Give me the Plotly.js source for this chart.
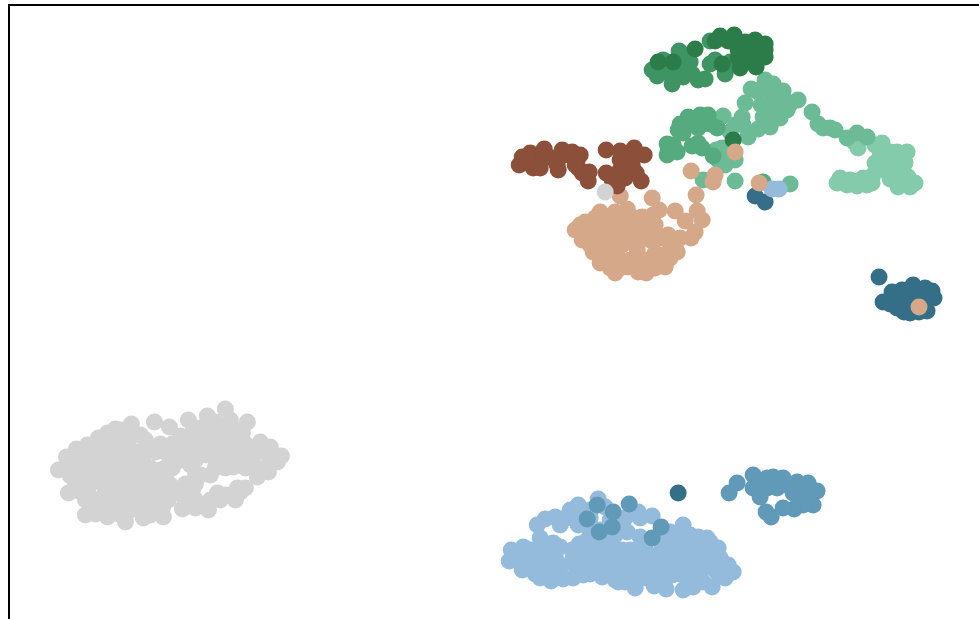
<!DOCTYPE html>
<html>
<head>
<meta charset="utf-8">
<script src="https://cdn.plot.ly/plotly-3.0.1.min.js"></script>
<style>html,body{margin:0;padding:0;background:#fff;overflow:hidden}</style>
</head>
<body>
<div id="chart" style="width:979px;height:619px"></div>
<script>
const green5 = [[837,183],[840,178],[847,185],[857,186],[863,178],[867,185],[872,183],[873,175],[858,148],[854,142],[875,145],[882,143],[897,152],[907,152],[905,163],[875,163],[883,157],[893,160],[890,170],[890,179],[898,187],[910,187],[915,183],[908,177],[900,175],[885,165],[898,165],[880,152],[890,152],[903,181],[850,180],[843,182],[878,170],[858,181]];
const green4 = [[765,80],[773,84],[751,89],[762,88],[783,91],[798,100],[790,104],[745,103],[761,105],[777,103],[787,110],[763,117],[780,118],[770,127],[758,129],[742,117],[743,125],[730,132],[748,137],[723,116],[722,148],[735,160],[725,165],[718,160],[703,180],[735,181],[790,184],[812,112],[818,124],[823,128],[830,128],[835,130],[847,138],[857,133],[867,137],[772,112],[765,110],[778,110],[768,118],[735,125],[773,98],[785,100],[758,92],[728,155],[716,150]];
const green3 = [[688,117],[680,124],[700,115],[708,115],[683,133],[717,128],[690,122],[703,124],[695,120],[667,144],[667,155],[677,152],[673,145],[692,146],[698,143],[702,148],[713,156],[763,182],[668,150],[674,150],[710,124],[685,126],[698,128],[678,130]];
const green2 = [[679,51],[652,70],[657,76],[672,84],[683,77],[698,80],[705,79],[690,62],[663,60],[710,64],[715,60],[725,74],[687,70],[673,72],[680,62],[710,41],[665,72],[680,72],[692,74],[730,62],[670,68],[685,55],[660,68]];
const green1 = [[715,41],[720,36],[734,35],[695,49],[755,40],[745,42],[765,44],[765,57],[756,67],[740,68],[722,64],[658,62],[673,62],[733,140],[738,50],[750,50],[760,52],[747,58],[755,58],[738,58],[728,41],[742,48],[745,62],[765,50]];
const teal = [[879,277],[678,493],[755,196],[765,202],[883,302],[892,292],[902,290],[913,285],[925,288],[932,291],[934,298],[927,311],[910,313],[904,312],[897,308],[890,304],[900,298],[910,295],[920,298],[915,305],[905,303],[925,300],[920,290],[895,298],[930,296],[919,312]];
const blue1 = [[598,499],[578,505],[570,510],[555,517],[545,519],[537,525],[560,525],[578,525],[540,538],[553,543],[560,547],[523,547],[511,550],[509,561],[522,570],[540,578],[551,581],[563,579],[573,578],[583,575],[602,577],[618,582],[635,588],[638,512],[652,516],[683,525],[627,532],[640,537],[670,532],[698,537],[707,538],[718,548],[728,565],[733,572],[725,578],[712,587],[693,587],[683,590],[666,589],[654,586],[579,544],[573,558],[590,550],[600,555],[610,548],[622,550],[635,552],[650,555],[662,548],[675,545],[690,548],[705,552],[700,565],[715,570],[688,570],[678,565],[625,565],[640,570],[655,572],[612,568],[595,565],[580,565],[560,565],[545,560],[530,558],[520,555],[535,550],[550,568],[530,565],[600,530],[605,540],[590,535],[615,580],[630,578],[645,578],[672,575],[695,578],[705,545],[683,538],[665,555],[590,512],[605,507],[583,515],[610,520],[620,560],[605,557],[660,562],[772,189],[779,189],
[590,510],[565,518],[572,518],[590,518],[625,518],[640,518],[590,525],[620,525],[590,535],[615,535],[680,535],[690,535],[585,542],[600,542],[665,542],[678,542],[695,542],[710,542],[530,550],[545,550],[572,550],[585,550],[600,550],[615,550],[630,550],[645,550],[680,550],[695,550],[712,550],[515,558],[525,558],[540,558],[555,558],[590,558],[610,558],[625,558],[640,558],[655,558],[675,558],[690,558],[708,558],[720,558],[530,566],[545,566],[560,566],[575,566],[590,566],[605,566],[635,566],[650,566],[665,566],[700,566],[712,566],[722,566],[535,574],[560,574],[590,574],[612,574],[628,574],[645,574],[660,574],[680,574],[700,574],[718,574],[625,582],[660,582],[690,582],[703,582]];
const blue2 = [[597,505],[613,512],[629,504],[587,519],[612,527],[599,532],[661,527],[652,538],[753,475],[737,483],[729,493],[753,488],[760,497],[767,478],[773,477],[783,478],[797,482],[808,483],[817,491],[793,493],[767,488],[777,488],[813,505],[803,505],[794,509],[783,508],[766,512],[771,517],[805,495],[787,485],[760,487],[770,484],[800,488]];
const tan = [[620,196],[652,198],[696,195],[691,171],[715,175],[713,182],[735,152],[759,183],[600,212],[615,212],[627,209],[659,210],[675,211],[697,211],[702,220],[685,221],[695,232],[691,238],[680,238],[668,235],[677,252],[670,258],[665,267],[655,253],[646,273],[615,273],[627,267],[600,263],[593,252],[582,240],[575,230],[585,222],[637,250],[642,217],[653,215],[590,232],[600,240],[610,225],[620,230],[632,228],[645,232],[655,225],[610,245],[622,245],[605,255],[635,238],[650,240],[590,225],[600,225],[615,258],[640,268],[652,265],[632,262],[672,243],[583,228],[618,220],[628,220],[605,235],[640,262],[655,268],[638,272],[919,307],
[595,218],[605,218],[625,218],[635,218],[650,218],[580,225],[595,225],[605,225],[615,225],[640,225],[648,225],[600,232],[610,232],[628,232],[590,238],[612,238],[640,238],[660,238],[590,245],[600,245],[612,245],[600,252],[612,252],[668,252],[608,260],[620,260],[630,260],[645,260],[660,260],[610,268],[620,268],[650,268]];
const brown = [[519,165],[522,157],[530,153],[544,149],[533,168],[540,168],[562,150],[572,152],[580,155],[558,170],[578,168],[577,160],[589,172],[588,181],[606,150],[620,151],[634,148],[644,155],[606,173],[620,160],[628,165],[636,173],[641,181],[617,186],[625,178],[615,175],[630,155],[527,163],[535,158],[557,165],[564,155],[620,170],[612,180],[543,158],[582,173],[527,158],[552,158],[575,165],[625,172],[632,165]];
const grey = [[605,192],[225,409],[207,416],[188,420],[154,422],[169,427],[247,422],[131,424],[115,429],[107,433],[98,438],[87,445],[76,449],[66,457],[58,470],[68,493],[85,515],[107,517],[125,522],[143,518],[163,517],[182,509],[195,508],[208,510],[217,493],[210,500],[233,497],[245,488],[237,488],[257,477],[268,472],[277,462],[281,456],[260,442],[270,447],[242,433],[215,422],[230,420],[200,428],[210,432],[225,432],[235,438],[220,445],[205,440],[190,435],[178,442],[165,448],[155,452],[145,440],[140,435],[125,438],[125,450],[112,445],[100,450],[90,458],[80,460],[70,470],[80,475],[90,470],[100,465],[112,462],[125,465],[135,472],[145,470],[160,470],[172,468],[155,478],[170,485],[145,485],[130,480],[115,478],[100,480],[85,485],[75,483],[90,497],[105,490],[120,495],[135,492],[150,495],[165,495],[120,505],[105,505],[140,505],[155,505],[182,495],[192,490],[200,475],[210,475],[190,465],[205,455],[220,458],[233,467],[248,460],[240,450],[252,452],[233,445],[215,440],[198,445],[185,450],[178,455],[270,462],[275,458],[262,470],[130,510],[150,515],[112,510],[95,505],[187,505],[225,495],[240,492],[180,490],
[120,430],[205,430],[215,430],[225,430],[235,430],[112,436],[120,436],[130,436],[180,436],[195,436],[205,436],[215,436],[225,436],[240,436],[95,444],[105,444],[118,444],[128,444],[160,444],[172,444],[190,444],[210,444],[225,444],[245,444],[80,452],[90,452],[100,452],[115,452],[128,452],[140,452],[165,452],[190,452],[200,452],[212,452],[228,452],[238,452],[258,452],[265,452],[72,460],[85,460],[108,460],[120,460],[132,460],[142,460],[172,460],[182,460],[195,460],[215,460],[228,460],[240,460],[252,460],[270,460],[65,468],[78,468],[92,468],[105,468],[118,468],[128,468],[150,468],[165,468],[215,468],[225,468],[245,468],[255,468],[265,468],[70,476],[85,476],[95,476],[108,476],[120,476],[150,476],[165,476],[195,476],[75,484],[90,484],[105,484],[118,484],[135,484],[155,484],[162,484],[185,484],[195,484],[80,492],[112,492],[128,492],[142,492],[158,492],[172,492],[190,492],[85,500],[98,500],[115,500],[128,500],[140,500],[155,500],[168,500],[185,500],[195,500],[220,500],[235,500],[92,508],[118,508],[132,508],[148,508],[162,508],[95,514],[118,514]];

const seriesList = [
  [green5, '#84cbab'], [green4, '#6cbb96'], [green3, '#55ab7e'], [green2, '#3e9463'], [green1, '#2c7c4a'],
  [teal, '#356f87'], [blue1, '#94bbdc'], [blue2, '#6199b8'], [tan, '#d4a888'], [brown, '#8c4f3a'], [grey, '#d3d3d3']
];

const traces = seriesList.map(([pts, color]) => ({
  type: 'scatter', mode: 'markers',
  x: pts.map(p => p[0]), y: pts.map(p => p[1]),
  marker: {size: 17, color: color, line: {width: 0}},
  hoverinfo: 'skip', showlegend: false
}));

const layout = {
  width: 979, height: 619,
  margin: {l: 9.5, r: 0, t: 6, b: 0},
  paper_bgcolor: '#fff', plot_bgcolor: '#fff',
  showlegend: false,
  xaxis: {range: [9.5, 979], side: 'top', showline: true, linecolor: '#000', linewidth: 2, showgrid: false, zeroline: false, showticklabels: false, ticks: ''},
  yaxis: {range: [619, 6], showline: true, linecolor: '#000', linewidth: 2, showgrid: false, zeroline: false, showticklabels: false, ticks: ''}
};
Plotly.newPlot('chart', traces, layout, {staticPlot: true, displayModeBar: false});
</script>
</body>
</html>
